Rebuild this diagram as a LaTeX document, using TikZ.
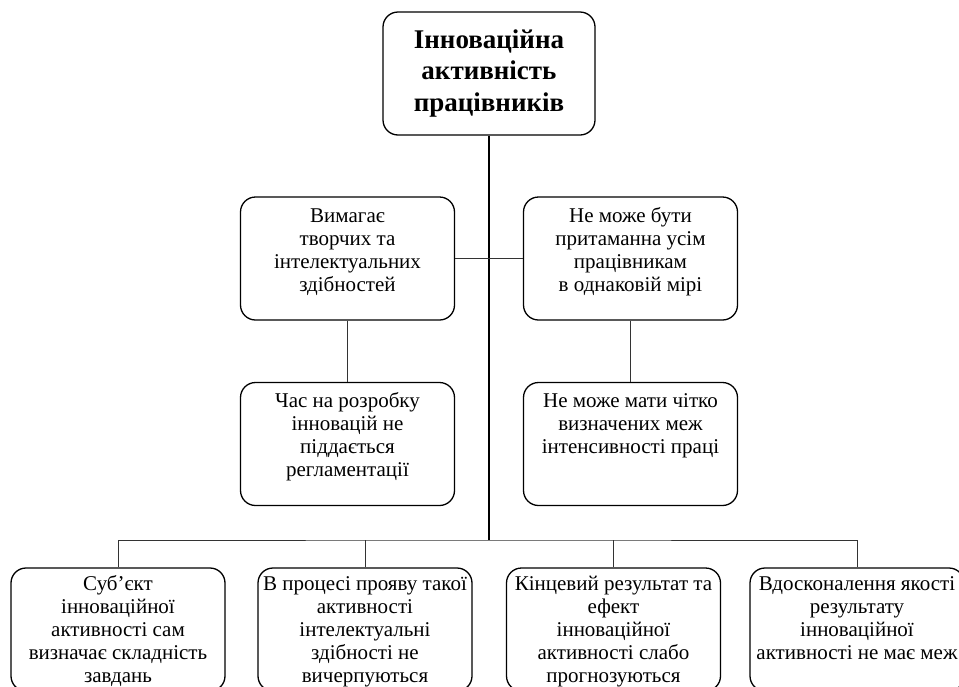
\documentclass[tikz,border=0pt]{standalone}
\usepackage{fontspec}
\setmainfont{Liberation Serif}
\tikzset{blok/.style = {draw, line width=1.3pt, rounded corners=15pt, inner sep=0pt,
                        minimum width=212pt, minimum height=123pt,
                        font=\fontsize{21}{23}\selectfont},
         lijn/.style = {line width=0.8pt, draw=black!80}}
\newcommand{\vmist}[2][105pt]{\parbox[c][#1][t]{214pt}{\centering\strut #2}}

\begin{document}
\begin{tikzpicture}[x=1pt, y=-1pt]
      \useasboundingbox (0,0) rectangle (959,686);
      \clip (0,0) rectangle (959,686);
      \node [blok, align=center, font=\fontsize{27}{31.5}\selectfont\bfseries] (top) at (489,73.5)
            {Інноваційна\\активність\\працівників};
      \node [blok] (vymaha) at (347.5,258.5) {\vmist{Вимагає\\творчих та\\інтелектуальних\\здібностей}};
      \node [blok] (nemozhe) at (630.5,258.5) {\vmist{Не може бути\\притаманна усім\\працівникам\\в однаковій мірі}};
      \node [blok] (chas) at (347.5,444) {\vmist{Час на розробку\\інновацій не\\піддається\\регламентації}};
      \node [blok] (mezhi) at (630.5,444) {\vmist{Не може мати чітко\\визначених меж\\інтенсивності праці}};
      \node [blok] (subiekt) at (118,629.5) {\vmist[111pt]{Суб’єкт\\інноваційної\\активності сам\\визначає складність\\завдань}};
      \node [blok] (proces) at (365,629.5) {\vmist[111pt]{В процесі прояву такої\\активності\\інтелектуальні\\здібності не\\вичерпуються}};
      \node [blok] (rezult) at (613.5,629.5) {\vmist[111pt]{Кінцевий результат та\\ефект\\інноваційної\\активності слабо\\прогнозуються}};
      \node [blok] (yakist) at (857,629.5) {\vmist[111pt]{Вдосконалення якості\\результату\\інноваційної\\активності не має меж}};
      \coordinate (bus) at (489,540);
      \draw [line width=2.2pt] (top) -- (bus);
      \draw [lijn] (vymaha) -- (nemozhe);
      \draw [lijn] (vymaha) -- (chas);
      \draw [lijn] (nemozhe) -- (mezhi);
      \draw [lijn] (subiekt) |- (bus) -| (yakist);
      \draw [lijn] (proces) -- (proces |- bus);
      \draw [lijn] (rezult) -- (rezult |- bus);
    \end{tikzpicture}
\end{document}
